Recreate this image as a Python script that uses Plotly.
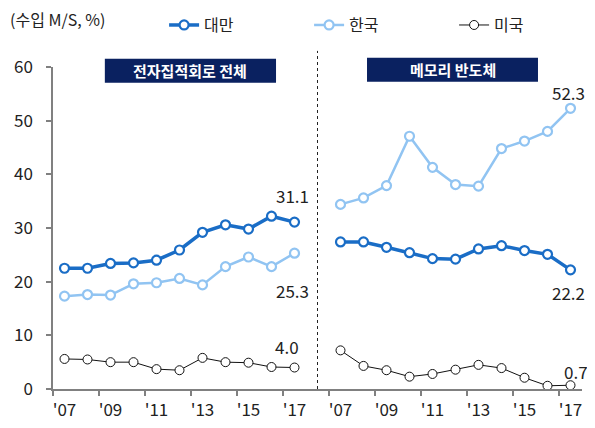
import plotly.graph_objects as go

years = ["'07", "'08", "'09", "'10", "'11", "'12", "'13", "'14", "'15", "'16", "'17"]
panels = ["전자집적회로 전체", "메모리 반도체"]

tw_all = [22.5, 22.5, 23.4, 23.5, 24.0, 25.9, 29.2, 30.6, 29.8, 32.2, 31.1]
kr_all = [17.3, 17.6, 17.5, 19.6, 19.8, 20.6, 19.4, 22.8, 24.6, 22.8, 25.3]
us_all = [5.6, 5.5, 5.0, 5.0, 3.7, 3.5, 5.8, 5.0, 4.9, 4.1, 4.0]

tw_mem = [27.4, 27.4, 26.4, 25.4, 24.3, 24.2, 26.1, 26.7, 25.8, 25.1, 22.2]
kr_mem = [34.4, 35.6, 37.9, 47.1, 41.3, 38.1, 37.8, 44.8, 46.2, 48.0, 52.3]
us_mem = [7.2, 4.3, 3.5, 2.3, 2.8, 3.6, 4.5, 3.9, 2.1, 0.6, 0.7]

series = [
    ("대만", tw_all, tw_mem, "#1a6dc6", 3.5, 2.2),
    ("한국", kr_all, kr_mem, "#91c4f2", 2.5, 2.2),
    ("미국", us_all, us_mem, "#111111", 1.0, 1.0),
]

n = len(years)
x_left = list(range(n))
x_right = [n + 1 + i for i in range(n)]
sep = n  # blank slot between panels

FONT = "Noto Sans CJK KR"
fig = go.Figure()
for name, left, right, color, lw, mw in series:
    for i, (xs, ys) in enumerate([(x_left, left), (x_right, right)]):
        fig.add_trace(go.Scatter(
            x=xs, y=ys, mode="lines+markers", name=name,
            legendgroup=name, showlegend=(i == 0),
            line=dict(color=color, width=lw),
            marker=dict(symbol="circle", size=9, color="white",
                        line=dict(color=color, width=mw)),
            cliponaxis=False,
        ))

# end labels
labels = [
    (x_left[-1], tw_all[-1], -2, 27),
    (x_left[-1], kr_all[-1], -2, -37),
    (x_left[-1], us_all[-1], -8, 21),
    (x_right[-1], kr_mem[-1], -2, 16),
    (x_right[-1], tw_mem[-1], -2, -23),
    (x_right[-1], us_mem[-1], 5, 14),
]
for xv, yv, xs, ys in labels:
    fig.add_annotation(x=xv, y=yv, xref="x", yref="y", text=f"{yv:.1f}",
                       showarrow=False, xshift=xs, yshift=ys,
                       font=dict(family=FONT, size=17, color="#222"))

xr = [-0.5, x_right[-1] + 0.5]
span = xr[1] - xr[0]
tickvals = x_left[::2] + x_right[::2]
ticktext = years[::2] + years[::2]
boundaries = [v - 0.5 for v in tickvals]

# separator (dotted)
sep_paper = (sep - xr[0]) / span
fig.add_shape(type="line", xref="paper", yref="paper", x0=sep_paper, x1=sep_paper,
              y0=0, y1=1.05, line=dict(color="#222", width=1, dash="dot"))

# panel titles
boxes = [(0.098, 0.4216, 0.951, 1.026, panels[0]),
         (0.5936, 0.9168, 0.954, 1.029, panels[1])]
for x0, x1, y0, y1, t in boxes:
    fig.add_shape(type="rect", xref="paper", yref="paper", x0=x0, x1=x1, y0=y0, y1=y1,
                  fillcolor="#0a2160", line=dict(width=0))
    fig.add_annotation(xref="paper", yref="paper", x=(x0 + x1) / 2, y=(y0 + y1) / 2,
                       text=f"<b>{t}</b>", showarrow=False, xanchor="center", yanchor="middle",
                       font=dict(family=FONT, size=15, color="white"))

fig.add_annotation(xref="paper", yref="paper", x=-0.085, y=1.15, xanchor="left", yanchor="middle",
                   text="(수입 M/S, %)", showarrow=False,
                   font=dict(family=FONT, size=16, color="#222"))

# invisible trace for boundary tick axis
fig.add_trace(go.Scatter(x=[xr[0]], y=[0], xaxis="x2", mode="markers",
                         marker=dict(opacity=0), showlegend=False, hoverinfo="skip"))

fig.update_layout(
    width=579, height=412,
    margin=dict(l=45, r=5, t=59, b=31, autoexpand=False),
    paper_bgcolor="white", plot_bgcolor="white",
    font=dict(family=FONT, size=16, color="#222"),
    showlegend=True,
    legend=dict(orientation="h", x=0.21, xanchor="left", y=1.183, yanchor="top",
                font=dict(family=FONT, size=16, color="#222"),
                entrywidth=100, bgcolor="rgba(0,0,0,0)"),
    xaxis=dict(range=xr, tickvals=tickvals, ticktext=ticktext, showgrid=False,
               zeroline=False, showline=True, linecolor="#808080", linewidth=1.5,
               ticks="outside", ticklen=5, tickcolor="rgba(0,0,0,0)",
               tickfont=dict(family=FONT, size=17, color="#222")),
    xaxis2=dict(range=xr, overlaying="x", anchor="y", side="bottom", tickvals=boundaries,
                showticklabels=False, ticks="outside", ticklen=6, tickcolor="#808080",
                tickwidth=1.5, showgrid=False, zeroline=False, showline=False),
    yaxis=dict(range=[0, 60], tickvals=[0, 10, 20, 30, 40, 50, 60], showgrid=False,
               zeroline=False, showline=True, linecolor="#808080", linewidth=1.5,
               ticks="outside", ticklen=5, tickcolor="#808080", tickwidth=1.5,
               ticklabelstandoff=10,
               tickfont=dict(family=FONT, size=17, color="#222")),
)

fig.write_html("out.html")
